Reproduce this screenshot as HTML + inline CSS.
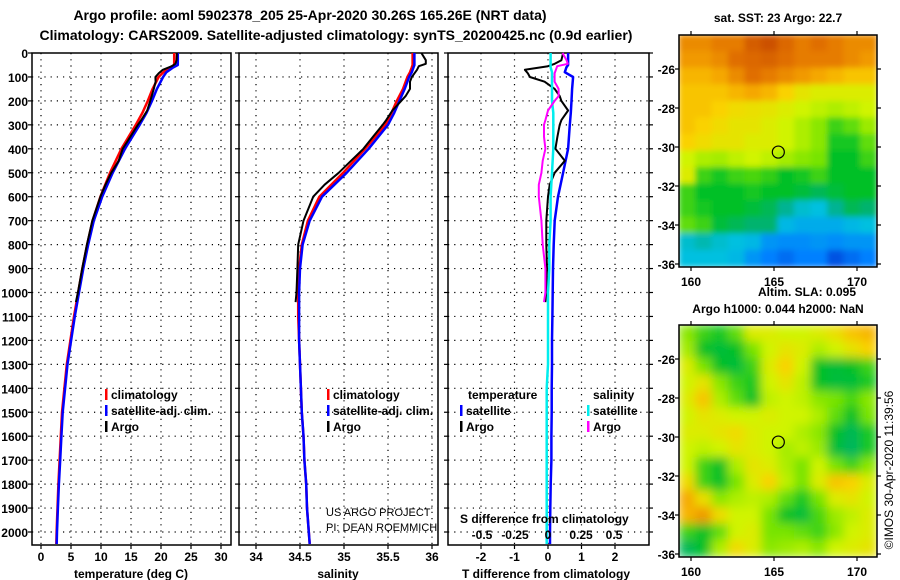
<!DOCTYPE html>
<html><head><meta charset="utf-8"><style>
body{margin:0;background:#fff;}
svg{display:block;font-family:"Liberation Sans",sans-serif;}
.b{font-weight:bold;font-size:12px;}
</style></head><body>
<svg id="fig" width="900" height="580" viewBox="0 0 900 580" xmlns="http://www.w3.org/2000/svg">
<defs>
<filter id="blur1" x="0" y="0" width="1" height="1"><feGaussianBlur stdDeviation="3"/></filter>
<filter id="blur2" x="0" y="0" width="1" height="1"><feGaussianBlur stdDeviation="5"/></filter>
<clipPath id="cm1"><rect x="679" y="35" width="198" height="232"/></clipPath>
<clipPath id="cm2"><rect x="679" y="325" width="198" height="232"/></clipPath>
</defs>
<text x="310" y="20" text-anchor="middle" font-weight="bold" font-size="14">Argo profile: aoml 5902378_205 25-Apr-2020 30.26S 165.26E (NRT data)</text>
<text x="336" y="40" text-anchor="middle" font-weight="bold" font-size="14">Climatology: CARS2009. Satellite-adjusted climatology: synTS_20200425.nc (0.9d earlier)</text>
<g id="g"></g>
</svg>
<script>
// ---- data ----
const depthTicks=[0,100,200,300,400,500,600,700,800,900,1000,1100,1200,1300,1400,1500,1600,1700,1800,1900,2000];
const tempTicks=[0,5,10,15,20,25,30];
const salTicks=[34,34.5,35,35.5,36];
const salTickLabels=["34","34.5","35","35.5","36"];
const tdTicks=[-2,-1,0,1,2];
const sdTicks=[-0.5,-0.25,0,0.25,0.5];
const sdTickLabels=["-0.5","-0.25","0","0.25","0.5"];
const climDepth=[0,50,60,80,100,150,200,250,300,400,500,600,700,800,900,1000,1100,1200,1300,1400,1500,1600,1700,1800,1900,2000,2050];
const tClim=[22.2,22.2,21.5,20.4,19.6,18.6,17.8,16.9,15.8,13.4,11.5,9.9,8.6,7.7,6.9,6.2,5.5,4.9,4.3,3.9,3.5,3.3,3.1,2.9,2.75,2.6,2.55];
const tSat=[22.8,22.8,22.05,20.9,20.35,19.32,18.5,17.58,16.45,14.0,11.95,10.2,8.8,7.87,7.05,6.34,5.63,5.02,4.42,4.01,3.61,3.4,3.2,2.98,2.82,2.66,2.61];
const sClim=[35.78,35.78,35.77,35.75,35.72,35.67,35.6,35.54,35.47,35.24,34.99,34.72,34.59,34.52,34.49,34.48,34.48,34.49,34.5,34.51,34.52,34.54,34.55,34.57,34.58,34.6,34.61];
const sSat=[35.8,35.8,35.79,35.77,35.74,35.69,35.63,35.57,35.5,35.28,35.03,34.75,34.61,34.53,34.5,34.49,34.49,34.49,34.5,34.51,34.52,34.54,34.55,34.57,34.58,34.6,34.61];
const argoDepth=[0,30,45,55,70,85,100,120,150,180,200,240,280,300,350,400,450,500,550,600,700,800,900,1000,1040];
const tArgo=[22.65,22.6,22.4,21.8,20.3,19.6,19.06,19.1,18.8,18.45,18.2,17.7,16.7,16.15,14.88,13.62,12.95,11.7,10.75,9.9,8.55,7.65,6.87,6.15,5.82];
const sArgo=[35.88,35.93,35.93,35.85,35.83,35.8,35.77,35.75,35.75,35.7,35.65,35.55,35.48,35.44,35.33,35.22,35.08,34.94,34.78,34.65,34.54,34.48,34.47,34.46,34.45];
const tDiffArgo=[0.45,0.4,0.2,0,-0.69,-0.6,-0.54,-0.1,0.2,0.35,0.4,0.6,0.4,0.35,0.28,0.22,0.5,0.2,0.05,0,-0.05,-0.05,-0.03,-0.05,-0.08];
const sDiffArgo=[0.11,0.14,0.15,0.07,0.06,0.05,0.05,0.05,0.08,0.08,0.05,0,-0.02,-0.03,-0.03,-0.02,-0.04,-0.05,-0.07,-0.07,-0.05,-0.04,-0.02,-0.02,-0.03];
const tDiffSat=[0.6,0.6,0.55,0.5,0.75,0.72,0.7,0.68,0.65,0.6,0.45,0.3,0.2,0.17,0.15,0.14,0.13,0.12,0.12,0.11,0.11,0.1,0.1,0.08,0.07,0.06,0.06];
const sDiffSat=[0.02,0.02,0.02,0.03,0.03,0.03,0.03,0.04,0.04,0.04,0.03,0.02,0.02,0.01,0.01,0,0,0,0,-0.01,-0.01,-0.01,-0.01,-0.01,-0.01,-0.01,-0.01];
const latTicks=[-26,-28,-30,-32,-34,-36];
const lonTicks=[160,165,170];
const floatLon=165.26, floatLat=-30.26;
const sstGrid=[
[0.88,0.88,0.9,0.9,0.95,0.97,0.93,0.9,0.92,0.9,0.88,0.88],
[0.86,0.86,0.88,0.92,0.93,0.94,0.92,0.9,0.9,0.9,0.88,0.86],
[0.82,0.82,0.84,0.88,0.92,0.9,0.88,0.86,0.84,0.82,0.8,0.8],
[0.8,0.8,0.8,0.82,0.84,0.82,0.78,0.74,0.72,0.72,0.72,0.72],
[0.8,0.8,0.78,0.76,0.75,0.74,0.72,0.7,0.68,0.66,0.68,0.7],
[0.8,0.78,0.76,0.74,0.74,0.72,0.7,0.66,0.62,0.55,0.58,0.64],
[0.78,0.76,0.74,0.74,0.72,0.72,0.7,0.66,0.62,0.52,0.52,0.58],
[0.7,0.66,0.65,0.68,0.7,0.68,0.65,0.62,0.6,0.5,0.5,0.55],
[0.72,0.55,0.52,0.55,0.56,0.54,0.5,0.52,0.55,0.5,0.5,0.5],
[0.55,0.5,0.5,0.5,0.52,0.5,0.5,0.48,0.45,0.48,0.5,0.5],
[0.55,0.52,0.5,0.5,0.48,0.45,0.38,0.32,0.3,0.38,0.45,0.42],
[0.58,0.55,0.48,0.45,0.42,0.42,0.28,0.25,0.25,0.25,0.28,0.3],
[0.32,0.35,0.32,0.3,0.28,0.2,0.18,0.18,0.2,0.18,0.2,0.2],
[0.3,0.3,0.3,0.28,0.2,0.15,0.12,0.15,0.15,0.08,0.12,0.15]];
const slaGrid=[
[0.62,0.55,0.52,0.58,0.72,0.72,0.7,0.7,0.72,0.75,0.8,0.82],
[0.65,0.5,0.48,0.5,0.6,0.7,0.74,0.72,0.66,0.7,0.74,0.78],
[0.72,0.6,0.5,0.48,0.55,0.72,0.78,0.7,0.5,0.48,0.5,0.55],
[0.7,0.74,0.62,0.55,0.52,0.7,0.74,0.68,0.5,0.48,0.48,0.52],
[0.72,0.8,0.66,0.58,0.5,0.68,0.7,0.68,0.62,0.6,0.56,0.62],
[0.7,0.74,0.72,0.7,0.7,0.72,0.7,0.7,0.66,0.58,0.5,0.6],
[0.72,0.72,0.74,0.76,0.72,0.7,0.7,0.66,0.62,0.5,0.45,0.52],
[0.7,0.68,0.7,0.74,0.72,0.7,0.65,0.68,0.64,0.48,0.44,0.52],
[0.7,0.55,0.5,0.66,0.74,0.72,0.66,0.6,0.7,0.6,0.55,0.62],
[0.76,0.55,0.5,0.6,0.72,0.78,0.68,0.6,0.72,0.8,0.78,0.72],
[0.84,0.75,0.62,0.66,0.68,0.66,0.58,0.52,0.6,0.72,0.74,0.7],
[0.82,0.86,0.76,0.7,0.7,0.6,0.5,0.48,0.56,0.64,0.68,0.72],
[0.55,0.5,0.58,0.7,0.72,0.6,0.6,0.58,0.55,0.62,0.7,0.72],
[0.45,0.5,0.66,0.76,0.72,0.62,0.64,0.66,0.62,0.7,0.72,0.74]];

// ---- helpers ----
const NS="http://www.w3.org/2000/svg";
const G=document.getElementById('g');
function mk(tag,attrs,parent){const e=document.createElementNS(NS,tag);for(const k in attrs)e.setAttribute(k,attrs[k]);(parent||G).appendChild(e);return e;}
const Y0=53, YS=0.2395, YB=545;
const yD=d=>Y0+d*YS;
const xT=t=>41+6*t;
const xS=s=>256+88*(s-34);
const xTD=t=>548+33.5*t;
const xSD=s=>548+132*s;

function panel(name,x0,x1,xticks,xf,labels,showDepthLabels,ticksRight){
  const grp=mk('g',{});
  
  
  depthTicks.forEach(d=>{
    const y=yD(d);
    if(d>0){const l=mk('line',{x1:x0,x2:x1,y1:y,y2:y,stroke:'#000','stroke-width':1.2,'stroke-dasharray':'1.2 5'},grp);
      }
    mk('line',{x1:x0-4,x2:x0,y1:y,y2:y,stroke:'#000','stroke-width':1.2},grp);
    if(ticksRight) mk('line',{x1:x1,x2:x1+4,y1:y,y2:y,stroke:'#000','stroke-width':1.2},grp);
    if(showDepthLabels){const t=mk('text',{x:28,y:y+5,'text-anchor':'end',class:'b'},grp);t.textContent=d;
      }
  });
  xticks.forEach((v,i)=>{
    const x=xf(v);
    const l=mk('line',{x1:x,x2:x,y1:Y0,y2:YB,stroke:'#000','stroke-width':1.2,'stroke-dasharray':'1.2 5'},grp);
    
    mk('line',{x1:x,x2:x,y1:YB,y2:YB+4,stroke:'#000','stroke-width':1.2},grp);
    const t=mk('text',{x:x,y:561,'text-anchor':'middle',class:'b'},grp);t.textContent=labels[i];
    
  });
  const r=mk('rect',{x:x0,y:Y0,width:x1-x0,height:YB-Y0,fill:'none',stroke:'#000','stroke-width':1.5},grp);
  
}
panel('temperature-panel',32,231,tempTicks,xT,tempTicks.map(String),true,false);
panel('salinity-panel',239,438,salTicks,xS,salTickLabels,false,false);
panel('difference-panel',448,649,tdTicks,xTD,tdTicks.map(String),false,true);

function line(depths,vals,xf,color,w,name){
  const pts=depths.map((d,i)=>xf(vals[i]).toFixed(1)+','+yD(d).toFixed(1)).join(' ');
  const p=mk('polyline',{points:pts,fill:'none',stroke:color,'stroke-width':w,'stroke-linejoin':'round'});
  
  
}
line(climDepth,tClim,xT,'#f00',2.5,'temp-climatology-line');
line(climDepth,tSat,xT,'#00f',2.5,'temp-satellite-line');
line(argoDepth,tArgo,xT,'#000',2,'temp-argo-line');
line(climDepth,sClim,xS,'#f00',2.5,'sal-climatology-line');
line(climDepth,sSat,xS,'#00f',2.5,'sal-satellite-line');
line(argoDepth,sArgo,xS,'#000',2,'sal-argo-line');
line(climDepth,tDiffSat,xTD,'#00f',2.5,'tdiff-satellite-line');
line(argoDepth,tDiffArgo,xTD,'#000',2,'tdiff-argo-line');
line(climDepth,sDiffSat,xSD,'#0ee',2.5,'sdiff-satellite-line');
line(argoDepth,sDiffArgo,xSD,'#f0f',2,'sdiff-argo-line');

function txt(x,y,s,name,opts){const t=mk('text',Object.assign({x:x,y:y,class:'b'},opts||{}));t.textContent=s;
  return t;}
function legend(x,y,color,label,name){
  const r=mk('rect',{x:x,y:y-10,width:2.5,height:11,fill:color});
  
  txt(x+6,y,label,name);
}
legend(105,399,'#f00','climatology','legend-temp-climatology');
legend(105,415,'#00f','satellite-adj. clim.','legend-temp-satellite');
legend(105,431,'#000','Argo','legend-temp-argo');
legend(327,399,'#f00','climatology','legend-sal-climatology');
legend(327,415,'#00f','satellite-adj. clim.','legend-sal-satellite');
legend(327,431,'#000','Argo','legend-sal-argo');
txt(468,399,'temperature','legend-temperature-header');
legend(460,415,'#00f','satellite','legend-tdiff-satellite');
legend(460,431,'#000','Argo','legend-tdiff-argo');
txt(593,399,'salinity','legend-salinity-header');
legend(587,415,'#0ee','satellite','legend-sdiff-satellite');
legend(587,431,'#f0f','Argo','legend-sdiff-argo');
txt(326,516,'US ARGO PROJECT','credit-project',{class:'',style:'font-size:11px'});
txt(326,531,'PI: DEAN ROEMMICH','credit-pi',{class:'',style:'font-size:11px'});
txt(460,523,'S difference from climatology','s-diff-axis-title');
sdTicks.forEach((v,i)=>txt(xSD(v),539,sdTickLabels[i],'s-diff-tick-label',{'text-anchor':'middle'}));
txt(131,578,'temperature (deg C)','x-axis-title-temperature',{'text-anchor':'middle'});
txt(338,578,'salinity','x-axis-title-salinity',{'text-anchor':'middle'});
txt(546,578,'T difference from climatology','x-axis-title-tdiff',{'text-anchor':'middle'});

// ---- maps ----
const cstops=[[0,[0,32,192]],[0.15,[0,128,255]],[0.3,[0,192,224]],[0.4,[0,176,128]],[0.5,[0,192,40]],[0.6,[120,228,0]],[0.7,[208,244,0]],[0.78,[250,210,0]],[0.85,[244,160,0]],[0.92,[224,110,0]],[1,[192,64,0]]];
function cmap(v){for(let i=1;i<cstops.length;i++){if(v<=cstops[i][0]){const a=cstops[i-1],b=cstops[i];const f=(v-a[0])/(b[0]-a[0]);
  const c=a[1].map((q,k)=>Math.round(q+(b[1][k]-q)*f));return 'rgb('+c.join(',')+')';}}return 'rgb(192,64,0)';}
const lonX=lon=>691+(lon-160)*16.6;
function map(name,grid,top,filt,clip,title,titleY){
  const mx=679,mw=198,mh=232;
  const grp=mk('g',{'clip-path':'url(#'+clip+')'});
  
  
  const inner=mk('g',{filter:'url(#'+filt+')'},grp);
  const rows=grid.length,cols=grid[0].length,cw=mw/cols,ch=mh/rows;
  grid.forEach((row,r)=>row.forEach((v,c)=>{
    const e=mk('rect',{x:mx+c*cw-0.5,y:top+r*ch-0.5,width:cw+1,height:ch+1,fill:cmap(v)},inner);
    
    
  }));
  const fr=mk('rect',{x:mx,y:top,width:mw,height:mh,fill:'none',stroke:'#000','stroke-width':1.5});
  
  const latY=lat=>top+34+(-26-lat)*19.5;
  latTicks.forEach(l=>{const y=latY(l);
    mk('line',{x1:mx-4,x2:mx,y1:y,y2:y,stroke:'#000','stroke-width':1.2});
    mk('line',{x1:mx+mw,x2:mx+mw+4,y1:y,y2:y,stroke:'#000','stroke-width':1.2});
    txt(675,y+5,String(l),'lat-tick-label',{'text-anchor':'end'});});
  lonTicks.forEach(l=>{const x=lonX(l);
    mk('line',{x1:x,x2:x,y1:top-4,y2:top,stroke:'#000','stroke-width':1.2});
    mk('line',{x1:x,x2:x,y1:top+mh,y2:top+mh+4,stroke:'#000','stroke-width':1.2});
    txt(x,top+mh+19,String(l),'lon-tick-label',{'text-anchor':'middle'});});
  const c=mk('circle',{cx:lonX(floatLon),cy:latY(floatLat),r:6,fill:'none',stroke:'#000','stroke-width':1.2});
  
  txt(778,titleY,title,name+'-title',{'text-anchor':'middle'});
}
map('sst-map',sstGrid,35,'blur1','cm1','sat. SST: 23 Argo: 22.7',22);
map('sla-map',slaGrid,325,'blur2','cm2','Argo h1000: 0.044 h2000: NaN',313);
txt(758,296,'Altim. SLA: 0.095','sla-title');
txt(893,470,'©IMOS 30-Apr-2020 11:39:56','copyright-text',{class:'',style:'font-size:12px','text-anchor':'middle',transform:'rotate(-90 893 470)'});
</script>
</body></html>
